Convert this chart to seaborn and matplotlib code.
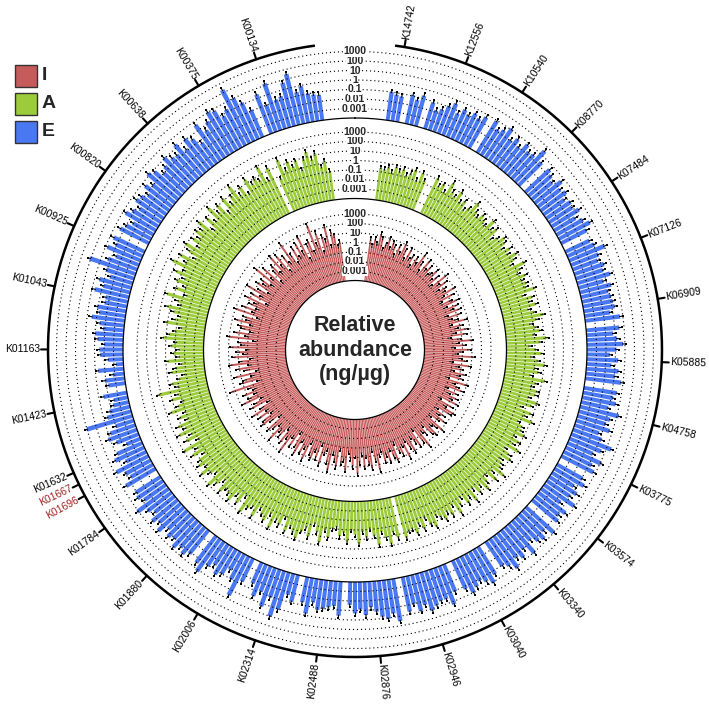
import numpy as np
import matplotlib
matplotlib.use("Agg")
import matplotlib.pyplot as plt
from matplotlib.patches import Rectangle
import seaborn as sns

sns.set_theme(style="white")
plt.rcParams["font.family"] = ["Liberation Sans", "DejaVu Sans"]

# ---- data ---------------------------------------------------------------
n_bars = 291

ko_labels = ["K00134", "K00375", "K00638", "K00820", "K00925", "K01043",
             "K01163", "K01423", "K01632", "K01667", "K01696", "K01784",
             "K01880", "K02006", "K02314", "K02488", "K02876", "K02946",
             "K03040", "K03340", "K03574", "K03775", "K04758", "K05885",
             "K06909", "K07126", "K07484", "K08770", "K10540", "K12556",
             "K14742"]
ko_bar = [9, 19, 29, 39, 49, 59, 69, 79, 89, 91, 93, 99, 109, 119, 129,
          139, 149, 159, 169, 179, 189, 199, 209, 219, 229, 239, 249, 259,
          269, 279, 289]
ko_highlight = ["K01667", "K01696"]

level_labels = ["0.001", "0.01", "0.1", "1", "10", "100", "1000"]
level_exp = [-3, -2, -1, 0, 1, 2, 3]

# log10 of relative abundance (ng/ug), bars counter-clockwise from the top gap
log_E = [
    -1.3, -1.2, -1.0, -0.1, -0.6, 1.5, 0.7, -0.6, -0.8, 1.2,
    -1.0, 0.4, None, -0.9, 0.2, 1.0, 2.3, 0.3, -0.2, 0.8,
    1.0, 0.2, -0.5, 0.6, -1.3, -0.4, 0.1, -0.8, 0.3, -0.6,
    -0.5, 0.1, -0.6, -1.0, -0.2, 0.2, -0.9, -0.4, -1.2, -0.7,
    -0.5, -1.3, -0.8, -0.3, -1.5, -1.0, -0.6, None, -0.4, -0.9,
    -0.2, -1.4, -0.7, 1.1, -0.9, -1.5, -0.5, -1.1, -0.3, -1.6,
    -1.6, -0.9, -1.2, -0.5, -1.4, -1.8, -1.0, -1.3, -2.0, -1.5,
    -1.6, -2.4, -3.2, -1.3, -2.8, -1.9, -2.2, None, -1.5, -2.5,
    -2.3, -1.8, -1.4, 1.0, -2.0, -1.2, -0.8, -1.5, -2.4, -1.1,
    -0.6, -1.6, -0.2, -1.0, -1.3, -0.4, None, -0.9, -0.7, -1.2,
    0.1, -0.8, -1.3, -0.5, -1.0, -0.3, -1.2, -0.6, -0.9, -0.2,
    -0.7, -0.3, -0.8, None, -0.5, 0.2, -0.9, -1.4, -0.6, -1.0,
    -1.8, -1.0, 0.6, -1.3, None, -1.6, -0.4, -1.1, 0.3, -0.9,
    1.0, 0.1, -1.7, -1.1, None, -1.3, -0.2, -1.5, -0.8, -1.0,
    -1.2, -1.4, -0.4, None, -1.6, -0.7, -1.1, -0.5, -1.3, -0.8,
    -0.2, 0.1, -0.4, 0.5, None, -0.3, -1.0, -0.1, -0.6, 0.2,
    -0.2, -0.5, -0.5, 0.3, -0.9, None, -0.7, 0.0, -0.4, -0.8,
    -0.4, 0.1, -0.6, None, -0.9, -0.5, 0.2, -0.7, -0.3, -1.0,
    0.1, -1.2, -0.6, -0.3, -0.9, 0.0, None, -0.5, -0.8, -0.4,
    -1.5, -0.1, -1.1, -0.6, -1.3, -0.4, -0.9, None, -0.2, -0.7,
    0.1, -1.1, -0.4, 0.5, -0.8, -1.3, -0.3, -0.9, -0.6, 0.2,
    -1.1, -0.4, -0.8, -0.5, None, -0.2, -0.9, -0.6, -1.4, -0.7,
    -1.6, -0.9, -0.2, -0.8, -1.2, -0.5, None, -0.3, -1.3, -0.7,
    -0.8, -0.9, -1.1, -0.6, -1.3, -0.4, -1.0, -0.7, -1.2, -0.9,
    0.0, -0.9, -1.2, None, -1.0, -0.3, -0.8, -1.4, -0.6, -1.1,
    -0.9, -1.3, -0.7, -1.0, -0.4, -1.2, -0.8, -0.5, None, -0.6,
    0.5, -0.6, -0.7, -0.2, -1.0, -0.4, -0.9, 0.1, -0.5, -0.8,
    -0.1, None, -0.3, -0.8, -0.5, -1.0, -0.6, -1.3, -0.4, -0.9,
    -1.5, -1.8, -1.1, None, -0.7, -1.3, -0.9, None, -1.3, -1.2, -1.0,
]

log_A = [
    -1.0, 0.2, -0.4, 1.2, 0.6, 1.5, 0.8, -0.2, 0.9, 0.4,
    1.1, 0.3, 1.6, -0.3, None, 1.3, 0.1, 1.8, 0.5, 0.9,
    0.6, 1.4, -0.1, 1.0, 0.3, 1.7, 0.8, 0.2, 1.2, -0.4,
    1.0, 0.4, 1.5, 0.0, 0.8, -0.5, 1.3, 0.5, 0.9, 0.2,
    0.7, -0.3, 1.1, 0.4, -0.6, 0.9, 0.1, 1.4, -0.2, 0.6,
    -0.5, 0.2, -0.9, -0.1, -1.3, 0.7, -0.6, -1.0, 0.3, -0.4,
    -1.2, -0.7, 0.1, -1.5, -0.9, -0.3, 0.3, -1.1, -0.6, -1.4,
    -0.8, -1.4, -0.2, -1.6, -1.0, -0.5, -1.8, -1.2, -0.4, -0.9,
    1.2, -0.7, 0.0, -1.1, -0.4, 0.5, -0.9, -0.2, -0.8, 0.3,
    -0.3, 0.6, -0.6, 0.2, -1.0, 0.9, -0.4, 0.4, -0.7, 0.1,
    0.5, -0.2, 0.8, 0.0, -0.5, 1.0, 0.3, -0.6, 0.6, -0.1,
    0.2, 0.7, -0.4, 0.4, -0.8, 0.9, 0.1, -0.3, 0.6, -0.6,
    -0.1, 0.4, -0.6, 0.8, -0.3, 0.1, -0.9, 0.5, -0.2, 0.3,
    0.8, -0.1, -0.6, 0.3, -1.2, -0.4, 0.6, -0.8, 0.0, -1.0,
    -1.2, -0.3, -0.7, 0.2, -1.0, -0.5, 0.4, -0.8, -0.2, -1.1,
    -0.3, 0.7, -0.6, 0.1, 0.8, -0.4, 0.3, None, 0.5, -0.1,
    -0.2, 0.4, -0.5, 0.2, -0.8, 0.0, 0.5, -0.6, -0.2, 0.3,
    -0.4, 0.2, -0.7, 0.5, -0.3, -0.9, 0.1, -0.5, 0.4, -0.8,
    0.0, -0.6, 0.3, -0.4, -1.0, 0.2, -0.7, 0.5, -0.3, -0.5,
    -0.8, 0.1, -0.4, -1.1, 0.3, -0.6, -0.2, -0.9, 0.0, -0.5,
    -0.6, -1.2, 0.2, -0.8, -0.3, -1.5, -0.5, 0.0, -1.0, -0.4,
    -0.3, -1.0, -0.6, 0.3, -1.3, -0.5, -0.9, 0.1, -0.7, -1.4,
    -0.3, -0.9, -1.6, -0.5, 0.2, -1.1, -0.4, -0.8, -1.3, -0.6,
    0.2, -0.7, -1.2, -0.3, -0.9, -0.5, -1.4, 0.0, -0.8, -0.6,
    -0.9, -0.4, -1.1, -0.6, 0.1, -1.3, -0.7, -0.2, -1.0, -0.5,
    -1.2, -0.6, -0.3, -0.9, -1.5, -0.4, -0.8, 0.0, -1.1, -0.7,
    -0.4, -1.0, -0.6, 0.2, -0.8, -1.3, -0.5, -0.9, 0.1, -0.7,
    -0.4, 0.4, -0.9, -0.2, -0.6, 0.1, None, None, -0.7, 0.0,
    -1.0, 0.0, -0.5, -0.8, -0.3, -0.6, -0.2, -0.9, -0.4, -0.7, -0.6,
]

log_I = [
    0.1, -0.4, 0.8, 1.3, -0.2, 2.0, 0.5, 1.0, -0.6, 1.6,
    0.4, 2.6, -0.3, 1.1, 0.7, -0.8, 1.9, 0.2, 1.4, -0.1,
    1.2, -0.5, 0.6, 2.2, 0.0, 0.9, -0.7, 1.5, 0.3, 1.8,
    -0.2, 1.0, 0.4, -0.9, 1.4, 0.1, 2.1, -0.4, 0.8, 0.3,
    1.1, -0.6, 0.5, 1.7, -0.1, 0.9, -1.0, 1.3, 0.2, 0.6,
    -0.3, 1.2, 0.0, 1.9, -0.7, 0.7, 0.3, 1.5, -0.2, 1.0,
    0.6, -0.4, 1.3, 0.1, 2.0, -0.8, 0.8, 0.4, 1.6, -0.1,
    0.9, 0.2, 1.4, -0.5, 0.7, 1.8, -0.2, 1.1, 0.3, -0.9,
    1.5, -0.3, 0.6, 1.0, -0.7, 2.3, 0.4, -0.1, 1.2, 0.0,
    0.8, 1.6, -0.4, 0.5, 1.1, -0.8, 0.2, 1.4, -0.2, 0.9,
    -0.5, 0.7, 1.2, 0.1, -0.9, 1.0, 0.4, -0.3, 1.5, 0.2,
    0.6, -0.6, 1.1, 0.3, 1.8, -0.2, 0.8, -1.0, 0.5, 1.3,
    -0.4, 0.9, 0.2, 1.4, -0.7, 0.5, 1.0, -0.1, 0.7, -0.9,
    1.2, 0.0, -0.5, 0.8, 1.6, -0.3, 0.4, 1.1, -0.8, 0.6,
    0.3, 1.3, -0.6, 0.1, 0.9, -0.2, 1.7, 0.5, -0.4, 1.0,
    -0.1, 0.6, 1.2, -0.7, 0.4, 1.5, 0.0, -0.5, 0.8, 0.2,
    0.9, -0.3, 0.5, 1.1, -0.8, 0.3, 0.7, -0.2, 1.3, -0.6,
    0.4, 1.0, -0.5, 0.2, 0.8, -1.1, 0.6, 1.4, -0.3, 0.1,
    -0.7, 0.5, 0.9, -0.2, 0.3, 1.2, -0.9, 0.0, 0.7, -0.4,
    0.2, -0.8, 0.6, 1.0, -0.3, 0.4, -1.2, 0.8, -0.1, 0.5,
    -0.6, 0.3, -1.0, 0.7, 0.1, -0.4, 0.9, -1.3, 0.2, -0.2,
    0.4, -0.9, 0.0, -0.5, 0.8, -1.2, 0.3, -0.3, 1.1, -0.7,
    -0.2, 0.6, -1.1, 0.1, -0.6, 0.9, -0.4, -1.4, 0.3, -0.8,
    0.5, -0.5, 0.1, -1.0, 0.7, -0.3, -0.8, 0.2, -1.2, 0.4,
    -0.4, 0.3, -0.9, 0.6, -0.1, -1.1, 0.4, -0.6, 0.9, -0.2,
    0.1, -0.7, 0.5, -0.3, 1.0, -1.0, 0.2, -0.5, 0.6, -0.1,
    -0.5, 0.4, -0.2, 0.8, -0.8, 0.1, 1.1, -0.4, 0.3, -0.9,
    0.2, -0.3, 0.7, -0.6, 0.4, 1.0, -0.2, 0.5, -0.7, 0.3,
    0.6, -0.1, 0.9, 0.2, -0.4, 0.7, 1.2, 0.0, 0.5, -0.3, 0.4,
]

groups = ["I", "A", "E"]
colors = {"I": "#C65B5B", "A": "#9CCB3B", "E": "#4A78F2"}

# ---- layout -------------------------------------------------------------
W, H = 709, 704
CX, CY = 355, 350          # circle centre in pixels
R_AX = 330                 # polar axes radius in pixels (data r == pixels)
R_OUT = 307
GAP = 7.5                  # half width of the top gap, degrees
DEC = 9.5                  # pixels per decade
base_r = {"I": 69.5, "A": 151.5, "E": 232.0}
values = {"I": log_I, "A": log_A, "E": log_E}

fig = plt.figure(figsize=(W / 100, H / 100), dpi=100)
ax = fig.add_axes([(CX - R_AX) / W, (H - CY - R_AX) / H, 2 * R_AX / W, 2 * R_AX / H],
                  projection="polar")
ax.set_theta_zero_location("N")
ax.set_theta_direction(1)

step = (360 - 2 * GAP) / n_bars
theta = np.deg2rad(GAP + (np.arange(n_bars) + 0.5) * step)
full = np.linspace(0, 2 * np.pi, 1441)
dotted = (0, (1, 2.6))

for g in groups:
    base = base_r[g]
    v = np.array(values[g], dtype=float)
    ok = ~np.isnan(v)
    tip = base + DEC * (v[ok] + 4)
    th = theta[ok]
    ax.bar(th, tip - base, bottom=base, width=np.deg2rad(step) * 0.8,
           color=colors[g], linewidth=0, zorder=2)
    # error whiskers
    ax.vlines(th, tip - 1, tip + 2.5, color="black", lw=0.8, zorder=4)
    sns.scatterplot(x=th, y=tip + 2.5, ax=ax, color="black", s=3,
                    marker="s", linewidth=0, zorder=5, legend=False)
    # log grid
    for k, lab in zip(level_exp, level_labels):
        r = base + DEC * (k + 4)
        ax.plot(full, np.full_like(full, r), ls=dotted, color="black",
                lw=0.8, zorder=3)
        ax.text(0, r, lab, ha="center", va="center", fontsize=7.5, zorder=6,
                fontweight="bold", bbox=dict(fc="white", ec="none", pad=0))
    ax.plot(full, np.full_like(full, base), color="black", lw=0.9, zorder=3)

# outer scale ring with KO ticks
arc = np.linspace(np.deg2rad(GAP), np.deg2rad(360 - GAP), 800)
ax.plot(arc, np.full_like(arc, R_OUT), color="black", lw=1.8, zorder=3,
        solid_capstyle="butt")
for lab, i in zip(ko_labels, ko_bar):
    t = theta[i]
    ax.plot([t, t], [R_OUT, R_OUT + 7], color="black", lw=1.5, zorder=3)
    deg = np.rad2deg(t)
    if deg < 180:
        rot, ha = deg - 90, "right"
    else:
        rot, ha = deg + 90 - 360, "left"
    ax.text(t, R_OUT + 8, lab, rotation=rot, rotation_mode="anchor",
            ha=ha, va="center", fontsize=7.5,
            color="#A02323" if lab in ko_highlight else "black")

ax.text(0, 0, "Relative\nabundance\n(ng/µg)", ha="center", va="center",
        fontsize=15.5, fontweight="bold", linespacing=1.2, zorder=6)

ax.set_xlim(0, 2 * np.pi)
ax.set_ylim(0, R_AX)
ax.axis("off")

# legend
for k, g in enumerate(groups):
    y_top = 65 + 28 * k
    fig.add_artist(Rectangle((15 / W, 1 - (y_top + 22) / H), 22 / W, 22 / H,
                             transform=fig.transFigure, fc=colors[g],
                             ec="#333333", lw=1))
    fig.text(42 / W, 1 - (y_top + 11) / H, g, fontsize=14, fontweight="bold",
             va="center", ha="left")

fig.savefig("out.png", dpi=100)
